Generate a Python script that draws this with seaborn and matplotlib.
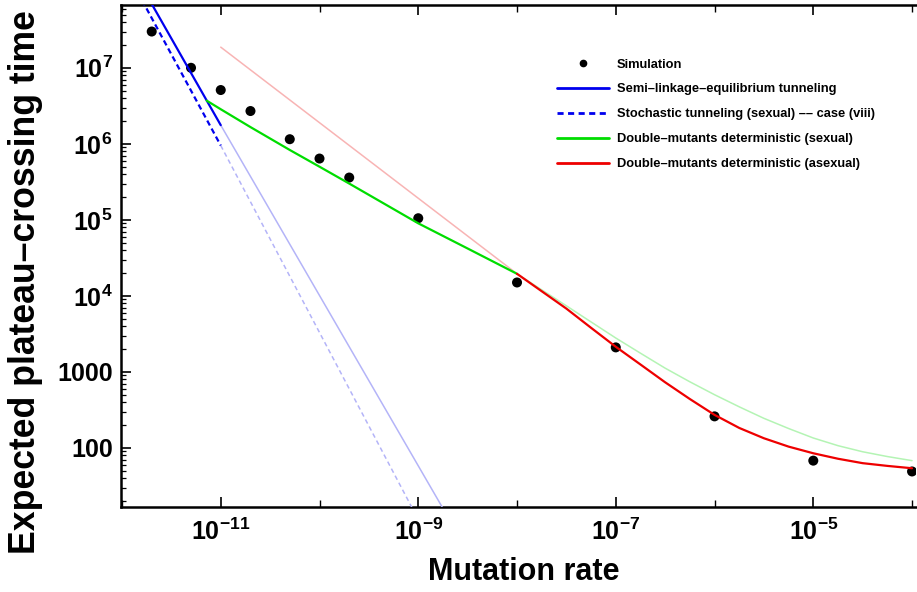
import matplotlib
matplotlib.use("Agg")
import matplotlib.pyplot as plt
from matplotlib.lines import Line2D
from matplotlib.ticker import FixedLocator, FuncFormatter, LogLocator, NullFormatter
import numpy as np
import seaborn as sns

# Simulation points
sim_mu = [2e-12, 5e-12, 1e-11, 2e-11, 5e-11, 1e-10, 2e-10, 1e-9, 1e-8, 1e-7, 1e-6, 1e-5, 1e-4]
sim_time = [3.0e7, 1.0e7, 5.1e6, 2.7e6, 1.15e6, 6.4e5, 3.6e5, 1.05e5, 1.5e4, 2.1e3, 260, 68, 49]

# Semi-linkage-equilibrium tunneling (valid part, then faint extension)
slet_mu = [1.6e-12, 1e-11]
slet_time = [1.15e8, 1.76e6]
slet_faint_mu = [1e-11, 2e-9]
slet_faint_time = [1.76e6, 12.3]

# Stochastic tunneling (sexual) -- case (viii)
stoch_mu = [1.6e-12, 1e-11]
stoch_time = [7.7e7, 9.5e5]
stoch_faint_mu = [1e-11, 1.2e-9]
stoch_faint_time = [9.5e5, 7.3]

# Double-mutants deterministic (sexual)
dsex_mu = [7.2e-12, 1e-11, 2e-11, 5e-11, 1e-10, 2e-10, 1e-9, 3.16e-9, 1e-8]
dsex_time = [3.7e6, 2.85e6, 1.66e6, 8.3e5, 5.0e5, 3.0e5, 9.0e4, 4.2e4, 1.95e4]
dsex_faint_mu = [1e-8, 1.78e-8, 3.16e-8, 5.62e-8, 1e-7, 1.78e-7, 3.16e-7, 5.62e-7,
                 1e-6, 1.78e-6, 3.16e-6, 5.62e-6, 1e-5, 1.78e-5, 3.16e-5, 5.62e-5, 1e-4]
dsex_faint_time = [1.95e4, 1.2e4, 7.4e3, 4.54e3, 2.79e3, 1.76e3, 1.12e3, 741,
                   501, 347, 245, 180, 135, 107, 89, 77, 68]

# Double-mutants deterministic (asexual)
dasex_mu = [1e-8, 1.78e-8, 3.16e-8, 5.62e-8, 1e-7, 1.78e-7, 3.16e-7, 5.62e-7,
            1e-6, 1.78e-6, 3.16e-6, 5.62e-6, 1e-5, 1.78e-5, 3.16e-5, 5.62e-5, 1e-4]
dasex_time = [1.95e4, 1.15e4, 6.8e3, 3.8e3, 2.14e3, 1.25e3, 730, 440,
              272, 183, 134, 104, 85, 72, 63, 58, 54]
dasex_faint_mu = [1e-11, 1e-8]
dasex_faint_time = [1.87e7, 1.95e4]

x_major = [1e-11, 1e-9, 1e-7, 1e-5]
x_minor = [1e-12, 1e-10, 1e-8, 1e-6, 1e-4]
y_major = [1e2, 1e3, 1e4, 1e5, 1e6, 1e7]

sns.set_theme(style="white")
plt.rcParams["font.family"] = ["Liberation Sans", "DejaVu Sans"]
plt.rcParams["font.weight"] = "bold"
plt.rcParams["mathtext.fontset"] = "custom"
plt.rcParams["mathtext.rm"] = "Liberation Sans:bold"
plt.rcParams["mathtext.bf"] = "Liberation Sans:bold"
plt.rcParams["mathtext.default"] = "bf"
for key in ("text.color", "axes.labelcolor", "xtick.color", "ytick.color"):
    plt.rcParams[key] = "black"

BLUE, GREEN, RED = "#0000ee", "#00dd00", "#ee0000"
LBLUE, LGREEN, LRED = "#b4b4f8", "#b4f4b4", "#f8b4b4"

fig = plt.figure(figsize=(9.17, 5.92), dpi=100)
ax = fig.add_axes([121 / 917, 85 / 592, 795 / 917, 502 / 592])

sns.scatterplot(x=sim_mu, y=sim_time, ax=ax, color="black", s=52,
                edgecolor="none", zorder=2, legend=False)

lw_dark, lw_faint = 1.6, 1.1
sns.lineplot(x=slet_faint_mu, y=slet_faint_time, ax=ax, color=LBLUE, lw=lw_faint,
             estimator=None, zorder=3)
sns.lineplot(x=stoch_faint_mu, y=stoch_faint_time, ax=ax, color=LBLUE, lw=lw_faint,
             estimator=None, linestyle=(0, (3, 2.2)), zorder=3)
sns.lineplot(x=dsex_faint_mu, y=dsex_faint_time, ax=ax, color=LGREEN, lw=lw_faint,
             estimator=None, sort=False, zorder=3)
sns.lineplot(x=dasex_faint_mu, y=dasex_faint_time, ax=ax, color=LRED, lw=lw_faint,
             estimator=None, zorder=3)

sns.lineplot(x=slet_mu, y=slet_time, ax=ax, color=BLUE, lw=lw_dark,
             estimator=None, zorder=4)
sns.lineplot(x=stoch_mu, y=stoch_time, ax=ax, color=BLUE, lw=lw_dark,
             estimator=None, linestyle=(0, (2.5, 1.6)), zorder=4)
sns.lineplot(x=dsex_mu, y=dsex_time, ax=ax, color=GREEN, lw=lw_dark,
             estimator=None, sort=False, zorder=4)
sns.lineplot(x=dasex_mu, y=dasex_time, ax=ax, color=RED, lw=lw_dark,
             estimator=None, sort=False, zorder=4)

ax.set_xscale("log")
ax.set_yscale("log")
ax.set_xlim(10 ** -12.01, 10 ** -3.96)
ax.set_ylim(16.7, 6.7e7)

# ticks, Mathematica-like frame
ax.xaxis.set_major_locator(FixedLocator(x_major))
ax.xaxis.set_minor_locator(FixedLocator(x_minor))
ax.xaxis.set_major_formatter(FuncFormatter(lambda v, p: r"$10^{%d}$" % round(np.log10(v))))
ax.xaxis.set_minor_formatter(NullFormatter())
ax.yaxis.set_major_locator(FixedLocator(y_major))
ax.yaxis.set_minor_locator(LogLocator(base=10, subs=np.arange(2, 10)))
ax.yaxis.set_major_formatter(FuncFormatter(
    lambda v, p: "%d" % v if v < 1e4 else r"$10^{%d}$" % round(np.log10(v))))
ax.yaxis.set_minor_formatter(NullFormatter())

ax.tick_params(axis="both", which="both", direction="in", color="black")
ax.tick_params(axis="x", which="major", length=7, width=1.2, labelsize=18, pad=8,
               top=True, bottom=True)
ax.tick_params(axis="x", which="minor", length=5, width=1.0, top=True, bottom=True)
ax.tick_params(axis="y", which="major", length=7, width=1.2, labelsize=18, pad=6,
               left=True, right=False)
ax.tick_params(axis="y", which="minor", length=3.5, width=0.9, left=True, right=False)

for side in ("left", "bottom", "top"):
    ax.spines[side].set_color("black")
    ax.spines[side].set_linewidth(1.8)
ax.spines["right"].set_visible(False)

ax.set_xlabel("Mutation rate", fontsize=22, fontweight="bold")
ax.set_ylabel("Expected plateau\u2013crossing time", fontsize=25.7, fontweight="bold")
ax.xaxis.set_label_coords(0.507, -0.100)
ax.yaxis.set_label_coords(-0.098, 0.448)

handles = [
    Line2D([], [], marker="o", color="black", ls="none", markersize=4.5),
    Line2D([], [], color=BLUE, lw=2.0),
    Line2D([], [], color=BLUE, lw=2.0, ls=(0, (2.2, 1.6))),
    Line2D([], [], color=GREEN, lw=2.0),
    Line2D([], [], color=RED, lw=2.0),
]
labels = [
    "Simulation",
    "Semi\u2013linkage\u2013equilibrium tunneling",
    "Stochastic tunneling (sexual) \u2013\u2013 case (viii)",
    "Double\u2013mutants deterministic (sexual)",
    "Double\u2013mutants deterministic (asexual)",
]
fig.legend(handles, labels, loc="upper left", bbox_to_anchor=(557 / 917, 1 - 58.5 / 592),
           frameon=False, prop={"family": "Liberation Sans", "weight": "bold", "size": 9.3},
           handlelength=4.0, handletextpad=0.62, labelspacing=1.0,
           borderpad=0, borderaxespad=0)

fig.savefig("out.png", dpi=100)
